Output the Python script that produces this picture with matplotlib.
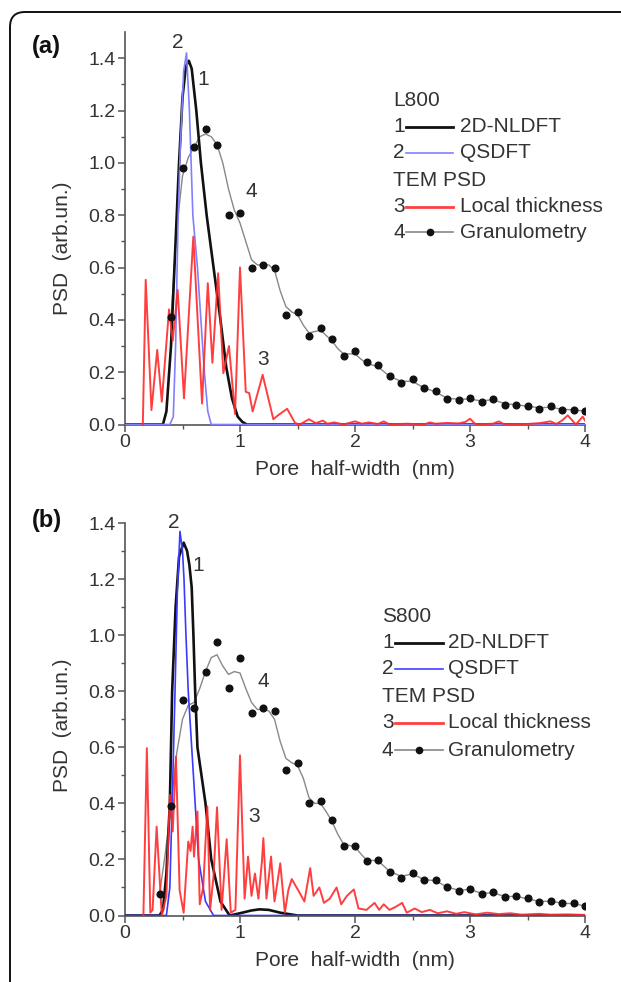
import numpy as np
import matplotlib
matplotlib.use("Agg")
import matplotlib.pyplot as plt
from matplotlib.lines import Line2D
from matplotlib.patches import FancyBboxPatch

plt.rcParams['font.family'] = ['Liberation Sans', 'DejaVu Sans']

# ---------------- panel (a): L800 ----------------
a_nldft_x = [0.0, 0.33, 0.36, 0.40, 0.44, 0.47, 0.50, 0.53, 0.555, 0.58, 0.62, 0.66, 0.71, 0.77,
             0.83, 0.88, 0.93, 0.98, 1.02, 1.06, 4.0]
a_nldft_y = [0.0, 0.0, 0.05, 0.30, 0.70, 1.00, 1.25, 1.37, 1.39, 1.36, 1.20, 1.00, 0.80, 0.60,
             0.40, 0.22, 0.10, 0.03, 0.01, 0.0, 0.0]

a_qsdft_x = [0.0, 0.39, 0.42, 0.44, 0.46, 0.48, 0.51, 0.535, 0.56, 0.59, 0.63, 0.66, 0.69, 0.72,
             0.75, 4.0]
a_qsdft_y = [0.0, 0.0, 0.03, 0.30, 0.75, 1.05, 1.35, 1.42, 1.20, 0.80, 0.60, 0.40, 0.20, 0.05,
             0.0, 0.0]

a_local_x = [0.155, 0.18, 0.23, 0.28, 0.32, 0.383, 0.415, 0.458, 0.513, 0.594, 0.67, 0.72, 0.76,
             0.81, 0.855, 0.904, 0.957, 1.0, 1.05, 1.08, 1.11, 1.197, 1.29, 1.33, 1.41, 1.48,
             1.52, 1.6, 1.66, 1.72, 1.76, 1.82, 1.9, 2.0, 2.06, 2.12, 2.2, 2.25, 2.3, 2.45, 2.6,
             2.65, 2.7, 2.8, 2.9, 2.96, 3.0, 3.05, 3.2, 3.25, 3.3, 3.5, 3.6, 3.7, 3.75, 3.8, 3.85,
             3.92, 3.98, 4.0]
a_local_y = [0.0, 0.553, 0.055, 0.285, 0.087, 0.44, 0.32, 0.514, 0.10, 0.718, 0.08, 0.54, 0.236,
             0.578, 0.196, 0.30, 0.04, 0.60, 0.125, 0.12, 0.05, 0.19, 0.02, 0.035, 0.06, 0.005,
             0.0, 0.02, 0.005, 0.015, 0.003, 0.008, 0.0, 0.012, 0.003, 0.008, 0.002, 0.012, 0.0,
             0.003, 0.0, 0.008, 0.003, 0.006, 0.004, 0.01, 0.022, 0.0, 0.003, 0.012, 0.0, 0.002,
             0.005, 0.012, 0.002, 0.015, 0.035, 0.0, 0.03, 0.015]

a_gran_x = [0.4, 0.5, 0.6, 0.7, 0.8, 0.9, 1.0, 1.1, 1.2, 1.3, 1.4, 1.5, 1.6, 1.7, 1.8, 1.9, 2.0,
            2.1, 2.2, 2.3, 2.4, 2.5, 2.6, 2.7, 2.8, 2.9, 3.0, 3.1, 3.2, 3.3, 3.4, 3.5, 3.6, 3.7,
            3.8, 3.9, 4.0]
a_gran_y = [0.41, 0.98, 1.06, 1.13, 1.07, 0.80, 0.81, 0.60, 0.61, 0.60, 0.42, 0.43, 0.34, 0.37,
            0.325, 0.263, 0.28, 0.238, 0.226, 0.184, 0.159, 0.172, 0.14, 0.129, 0.098, 0.095,
            0.102, 0.087, 0.099, 0.076, 0.076, 0.07, 0.061, 0.07, 0.057, 0.057, 0.051]

a_fit_x = [0.40, 0.45, 0.50, 0.55, 0.60, 0.65, 0.70, 0.75, 0.80, 0.85, 0.90, 0.95, 1.00, 1.05,
           1.10, 1.15, 1.20, 1.25, 1.30, 1.35, 1.40, 1.45, 1.50, 1.55, 1.60, 1.65, 1.70, 1.75,
           1.80, 1.85, 1.90, 1.95, 2.00, 2.05, 2.10, 2.20, 2.30, 2.40, 2.50, 2.60, 2.70, 2.80,
           2.90, 3.00, 3.10, 3.20, 3.30, 3.40, 3.50, 3.60, 3.70, 3.80, 3.90, 4.00]
a_fit_y = [0.40, 0.75, 0.95, 1.02, 1.06, 1.10, 1.11, 1.10, 1.07, 1.00, 0.90, 0.82, 0.77, 0.70,
           0.63, 0.61, 0.61, 0.61, 0.59, 0.51, 0.45, 0.43, 0.42, 0.38, 0.35, 0.355, 0.36, 0.34,
           0.32, 0.29, 0.27, 0.27, 0.27, 0.25, 0.235, 0.22, 0.185, 0.165, 0.165, 0.14, 0.125,
           0.10, 0.097, 0.097, 0.09, 0.095, 0.08, 0.075, 0.07, 0.064, 0.066, 0.058, 0.056, 0.051]

# ---------------- panel (b): S800 ----------------
b_nldft_x = [0.0, 0.30, 0.33, 0.36, 0.39, 0.41, 0.44, 0.47, 0.51, 0.54, 0.56, 0.58, 0.595, 0.61,
             0.63, 0.70, 0.75, 0.83, 0.91, 1.0, 1.1, 1.17, 1.25, 1.35, 1.5, 4.0]
b_nldft_y = [0.0, 0.0, 0.02, 0.15, 0.40, 0.80, 1.10, 1.28, 1.33, 1.30, 1.25, 1.17, 1.00, 0.80,
             0.60, 0.40, 0.20, 0.05, 0.0, 0.008, 0.018, 0.022, 0.02, 0.01, 0.0, 0.0]

b_qsdft_x = [0.0, 0.36, 0.39, 0.41, 0.435, 0.455, 0.478, 0.50, 0.513, 0.53, 0.55, 0.58, 0.61,
             0.64, 0.70, 0.77, 4.0]
b_qsdft_y = [0.0, 0.0, 0.10, 0.40, 0.80, 1.15, 1.37, 1.30, 1.20, 1.00, 0.80, 0.60, 0.40, 0.20,
             0.05, 0.0, 0.0]

b_local_x = [0.16, 0.19, 0.22, 0.24, 0.275, 0.32, 0.36, 0.39, 0.415, 0.443, 0.475, 0.51, 0.55,
             0.57, 0.588, 0.60, 0.63, 0.65, 0.68, 0.716, 0.74, 0.77, 0.80, 0.84, 0.884, 0.92,
             0.96, 1.0, 1.04, 1.07, 1.10, 1.13, 1.16, 1.19, 1.203, 1.23, 1.27, 1.30, 1.35, 1.39,
             1.42, 1.45, 1.52, 1.56, 1.61, 1.64, 1.69, 1.73, 1.78, 1.84, 1.88, 1.93, 1.99, 2.03,
             2.1, 2.17, 2.21, 2.25, 2.3, 2.35, 2.41, 2.45, 2.52, 2.58, 2.65, 2.72, 2.8, 2.88,
             2.95, 3.05, 3.15, 3.25, 3.35, 3.45, 3.6, 3.7, 3.85, 4.0]
b_local_y = [0.0, 0.597, 0.01, 0.02, 0.317, 0.0, 0.07, 0.43, 0.30, 0.567, 0.09, 0.01, 0.264,
             0.23, 0.317, 0.21, 0.371, 0.04, 0.10, 0.389, 0.02, 0.14, 0.386, 0.02, 0.272, 0.01,
             0.02, 0.571, 0.06, 0.21, 0.07, 0.15, 0.06, 0.19, 0.276, 0.06, 0.21, 0.05, 0.186,
             0.01, 0.09, 0.13, 0.08, 0.05, 0.169, 0.07, 0.10, 0.045, 0.06, 0.10, 0.04, 0.07,
             0.093, 0.025, 0.02, 0.045, 0.02, 0.04, 0.02, 0.03, 0.045, 0.01, 0.025, 0.012, 0.02,
             0.008, 0.015, 0.006, 0.012, 0.004, 0.01, 0.005, 0.008, 0.003, 0.006, 0.003, 0.004,
             0.002]

b_gran_x = [0.3, 0.4, 0.5, 0.6, 0.7, 0.8, 0.9, 1.0, 1.1, 1.2, 1.3, 1.4, 1.5, 1.6, 1.7, 1.8, 1.9,
            2.0, 2.1, 2.2, 2.3, 2.4, 2.5, 2.6, 2.7, 2.8, 2.9, 3.0, 3.1, 3.2, 3.3, 3.4, 3.5, 3.6,
            3.7, 3.8, 3.9, 4.0]
b_gran_y = [0.076, 0.39, 0.767, 0.74, 0.867, 0.976, 0.81, 0.917, 0.722, 0.74, 0.728, 0.52, 0.543,
            0.403, 0.41, 0.339, 0.248, 0.248, 0.195, 0.198, 0.156, 0.133, 0.153, 0.127, 0.127,
            0.103, 0.089, 0.095, 0.077, 0.083, 0.067, 0.07, 0.061, 0.049, 0.052, 0.044, 0.043,
            0.034]

b_fit_x = [0.30, 0.35, 0.40, 0.45, 0.50, 0.55, 0.60, 0.65, 0.70, 0.75, 0.80, 0.85, 0.90, 0.95,
           1.00, 1.05, 1.10, 1.15, 1.20, 1.25, 1.30, 1.35, 1.40, 1.45, 1.50, 1.55, 1.60, 1.65,
           1.70, 1.75, 1.80, 1.85, 1.90, 1.95, 2.00, 2.05, 2.10, 2.20, 2.30, 2.40, 2.50, 2.60,
           2.70, 2.80, 2.90, 3.00, 3.10, 3.20, 3.30, 3.40, 3.50, 3.60, 3.70, 3.80, 3.90, 4.00]
b_fit_y = [0.076, 0.22, 0.39, 0.58, 0.70, 0.75, 0.76, 0.81, 0.87, 0.92, 0.93, 0.89, 0.86, 0.87,
           0.865, 0.81, 0.76, 0.735, 0.735, 0.73, 0.70, 0.62, 0.56, 0.545, 0.535, 0.49, 0.42,
           0.40, 0.40, 0.37, 0.335, 0.29, 0.255, 0.25, 0.245, 0.22, 0.198, 0.195, 0.158, 0.14,
           0.148, 0.128, 0.124, 0.102, 0.09, 0.093, 0.079, 0.081, 0.068, 0.068, 0.06, 0.05,
           0.051, 0.044, 0.042, 0.034]

legend_names = ['2D-NLDFT', 'QSDFT', 'Local thickness', 'Granulometry']

TXT = '#333333'
FS = 14
LFS = 15

fig = plt.figure(figsize=(6.21, 9.82), dpi=100)
W, H = 621.0, 982.0


def fx(px):
    return px / W


def fy(py):
    return 1 - py / H


def draw_panel(ax, nldft, qsdft, local, gran, fit, blue_col, ymax):
    ax.plot(fit[0], fit[1], color='#888888', lw=1.0, zorder=2)
    ax.plot(nldft[0], nldft[1], color='#111111', lw=1.9, zorder=3, solid_joinstyle='round')
    ax.plot(qsdft[0], qsdft[1], color=blue_col, lw=1.2, zorder=4, solid_joinstyle='round')
    ax.plot(local[0], local[1], color='#ff2a2a', lw=1.4, zorder=5, alpha=0.9,
            solid_joinstyle='round')
    ax.plot(gran[0], gran[1], 'o', color='#111111', ms=4.8, zorder=6)
    ax.set_xlim(0, 4)
    ax.set_ylim(0, ymax)
    ax.spines['top'].set_visible(False)
    ax.spines['right'].set_visible(False)
    for s in ('left', 'bottom'):
        ax.spines[s].set_color('#555555')
        ax.spines[s].set_linewidth(1.2)
    ax.set_xticks([0, 1, 2, 3, 4])
    ax.set_xticks([0.5, 1.5, 2.5, 3.5], minor=True)
    ax.set_yticks(np.arange(0, 1.41, 0.2))
    ax.set_yticks(np.arange(0.1, 1.41, 0.2), minor=True)
    ax.yaxis.set_major_formatter(plt.FormatStrFormatter('%.1f'))
    ax.tick_params(which='major', direction='out', length=5, width=1.1, color='#555555',
                   labelsize=FS, labelcolor=TXT, pad=2)
    ax.tick_params(which='minor', direction='out', length=3, width=1.0, color='#555555')
    ax.set_xlabel('Pore  half-width  (nm)', fontsize=LFS, color=TXT, labelpad=6)
    ax.set_ylabel('PSD  (arb.un.)', fontsize=LFS, color=TXT)


def draw_legend(title, x_num, x_line0, x_line1, x_txt, rows_y, colors):
    fig.text(fx(x_num), fy(rows_y[0]), title, fontsize=LFS, color=TXT, va='center', ha='left')
    entries = [(1, 0), (2, 1), (None, None), (3, 2), (4, 3)]
    for (num, idx), yy in zip(entries, rows_y[1:]):
        if num is None:
            fig.text(fx(x_num), fy(yy), 'TEM PSD', fontsize=LFS, color=TXT, va='center',
                     ha='left')
            continue
        fig.text(fx(x_num), fy(yy), str(num), fontsize=LFS, color=TXT, va='center', ha='left')
        c, lw = colors[idx]
        fig.add_artist(Line2D([fx(x_line0), fx(x_line1)], [fy(yy), fy(yy)], color=c, lw=lw))
        if idx == 3:
            fig.add_artist(Line2D([fx((x_line0 + x_line1) / 2)], [fy(yy)], marker='o',
                                  color='#111111', ms=4.5))
        fig.text(fx(x_txt), fy(yy), legend_names[idx], fontsize=LFS, color=TXT,
                 va='center', ha='left')


# panel (a)
ax_a = fig.add_axes([fx(125), fy(424.5), 460 / W, 392.5 / H])
draw_panel(ax_a, (a_nldft_x, a_nldft_y), (a_qsdft_x, a_qsdft_y), (a_local_x, a_local_y),
           (a_gran_x, a_gran_y), (a_fit_x, a_fit_y), '#8080ff', 1.5)
ax_a.yaxis.set_label_coords(-0.115, 0.45)
for t, xx, yy in [('2', 0.46, 1.46), ('1', 0.68, 1.32), ('4', 1.10, 0.89), ('3', 1.20, 0.25)]:
    ax_a.text(xx, yy, t, fontsize=LFS, color=TXT, ha='center', va='center', clip_on=False)
fig.text(fx(32), fy(47), '(a)', fontsize=17, fontweight='bold', color='#111111',
         ha='left', va='center')
draw_legend('L800', 393, 406, 453, 460, [100, 127, 153, 180, 207, 232],
            [('#111111', 2.0), ('#8080ff', 1.2), ('#ff4040', 2.0), ('#888888', 1.2)])

# panel (b)
ax_b = fig.add_axes([fx(125), fy(915.5), 460 / W, 392.5 / H])
draw_panel(ax_b, (b_nldft_x, b_nldft_y), (b_qsdft_x, b_qsdft_y), (b_local_x, b_local_y),
           (b_gran_x, b_gran_y), (b_fit_x, b_fit_y), '#3a3aff', 1.4)
ax_b.yaxis.set_label_coords(-0.115, 0.485)
for t, xx, yy in [('2', 0.42, 1.40), ('1', 0.64, 1.25), ('4', 1.20, 0.835), ('3', 1.12, 0.353)]:
    ax_b.text(xx, yy, t, fontsize=LFS, color=TXT, ha='center', va='center', clip_on=False)
fig.text(fx(32), fy(521), '(b)', fontsize=17, fontweight='bold', color='#111111',
         ha='left', va='center')
draw_legend('S800', 382, 395, 443, 448, [617, 643, 669, 697, 723, 750],
            [('#111111', 2.0), ('#4040ff', 1.2), ('#ff4040', 2.0), ('#888888', 1.2)])

# rounded frame around the whole figure (cut off at right and bottom)
frame = FancyBboxPatch((0.10, -0.5), 7.0, 9.82 - 0.12 + 0.5,
                       boxstyle='round,pad=0,rounding_size=0.15',
                       transform=fig.dpi_scale_trans, fill=False, ec='#111111', lw=1.4)
fig.add_artist(frame)

fig.savefig('out.png', dpi=100)
